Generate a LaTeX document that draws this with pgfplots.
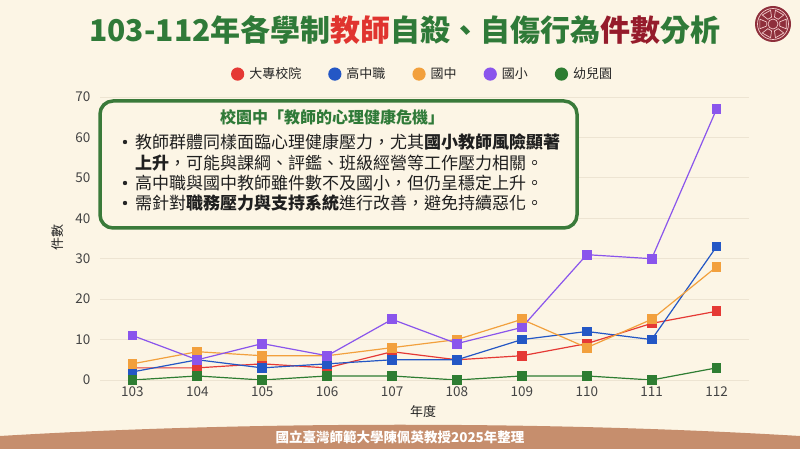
\documentclass[border=0pt]{standalone}
\usepackage{fontspec}
\setmainfont{Noto Sans CJK TC}
\usepackage{pgfplots}
\pgfplotsset{compat=1.18}
\definecolor{bg}{HTML}{FCF5E5}
\definecolor{gridc}{HTML}{EDE4D2}
\definecolor{tickc}{HTML}{444444}
\definecolor{tgreen}{HTML}{2F7A38}
\definecolor{tred}{HTML}{E0342F}
\definecolor{tmaroon}{HTML}{951B2B}
\definecolor{boxgreen}{HTML}{3A7A3A}
\definecolor{cRed}{HTML}{E53935}
\definecolor{cBlue}{HTML}{2457C5}
\definecolor{cOrange}{HTML}{F2A03D}
\definecolor{cPurple}{HTML}{8A55EC}
\definecolor{cGreen}{HTML}{2E7D32}
\definecolor{banner}{HTML}{C68E6D}
\definecolor{logoc}{HTML}{8E2F3B}
\definecolor{logol}{HTML}{F2CACA}
\begin{document}
\begin{tikzpicture}[x=1pt,y=1pt]
\fill[bg] (0,0) rectangle (800,449);
% banner
\fill[banner] (0,13) .. controls (250,28) and (550,28) .. (800,13) -- (800,0) -- (0,0) -- cycle;
\node[text=white, font=\fontsize{13.5}{16}\selectfont\bfseries] at (400,12) {國立臺灣師範大學陳佩英教授2025年整理};
% title
\node[font=\fontsize{30}{35}\selectfont\bfseries, text=tgreen] at (405,419) {103-112年各學制\textcolor{tred}{教師}自殺、自傷行為\textcolor{tmaroon}{件數}分析};
% logo
\begin{scope}[shift={(773,425)}]
\fill[logoc] (0,0) circle (18);
\draw[logol, line width=0.7] (0,0) circle (15.5);
\draw[logol, line width=0.7] (0,0) circle (5);
\foreach \a in {0,60,...,300}{
  \draw[logol, line width=0.7] (\a-18:7) -- (\a+18:7) -- (\a+20:14) -- (\a-20:14) -- cycle;
}
\end{scope}
\begin{axis}[
  at={(100pt,69pt)}, anchor=south west,
  scale only axis, width=649pt, height=283pt,
  xmin=102.5, xmax=112.5, ymin=0, ymax=70,
  xtick={103,104,105,106,107,108,109,110,111,112},
  ytick={0,10,20,30,40,50,60,70},
  axis line style={draw=none}, major tick length=0pt,
  ymajorgrids, grid style={line width=0.8pt, color=gridc},
  tick label style={font=\fontsize{13.5}{15}\selectfont, text=tickc},
  /pgf/number format/assume math mode=true,
  xticklabel style={yshift=-3pt}, yticklabel style={xshift=-6pt},
  xlabel={年度}, ylabel={件數},
  every axis x label/.style={at={(axis description cs:0.498,-0.113)}, anchor=center,
    font=\fontsize{13}{15}\selectfont, text=black!85},
  every axis y label/.style={at={(axis description cs:-0.065,0.505)}, anchor=center, rotate=90,
    font=\fontsize{13}{15}\selectfont, text=black!85},
  legend columns=5,
  legend style={at={(axis description cs:0.497,1.081)}, anchor=center, draw=none, fill=none,
    font=\fontsize{13}{15}\selectfont, text=black!85,
    /tikz/every even column/.append style={column sep=25pt}},
  legend cell align=left,
]
\addplot[color=cRed, line width=1.2pt, mark=square*, mark size=4.3pt,
  legend image code/.code={\fill[cRed] (7pt,0pt) circle (6pt); \path (16pt,0pt);}]
  coordinates {(103,3) (104,3) (105,4) (106,3) (107,7) (108,5) (109,6) (110,9) (111,14) (112,17)};
\addlegendentry{大專校院}
\addplot[color=cBlue, line width=1.2pt, mark=square*, mark size=4.3pt,
  legend image code/.code={\fill[cBlue] (7pt,0pt) circle (6pt); \path (16pt,0pt);}]
  coordinates {(103,2) (104,5) (105,3) (106,4) (107,5) (108,5) (109,10) (110,12) (111,10) (112,33)};
\addlegendentry{高中職}
\addplot[color=cOrange, line width=1.2pt, mark=square*, mark size=4.3pt,
  legend image code/.code={\fill[cOrange] (7pt,0pt) circle (6pt); \path (16pt,0pt);}]
  coordinates {(103,4) (104,7) (105,6) (106,6) (107,8) (108,10) (109,15) (110,8) (111,15) (112,28)};
\addlegendentry{國中}
\addplot[color=cPurple, line width=1.2pt, mark=square*, mark size=4.3pt,
  legend image code/.code={\fill[cPurple] (7pt,0pt) circle (6pt); \path (16pt,0pt);}]
  coordinates {(103,11) (104,5) (105,9) (106,6) (107,15) (108,9) (109,13) (110,31) (111,30) (112,67)};
\addlegendentry{國小}
\addplot[color=cGreen, line width=1.2pt, mark=square*, mark size=4.3pt,
  legend image code/.code={\fill[cGreen] (7pt,0pt) circle (6pt); \path (16pt,0pt);}]
  coordinates {(103,0) (104,1) (105,0) (106,1) (107,1) (108,0) (109,1) (110,1) (111,0) (112,3)};
\addlegendentry{幼兒園}
\end{axis}
% text box
\draw[boxgreen, line width=3.5pt, fill=bg, rounded corners=13pt] (100,221) rectangle (577,348);
\node[font=\fontsize{16}{19}\selectfont\bfseries, text=tgreen] at (332,332) {校園中「教師的心理健康危機」};
\begin{scope}[every node/.style={anchor=west, inner sep=0pt, font=\fontsize{17}{20}\selectfont, text=black!88}]
\fill[black!85] (125,307) circle (2.2);
\node at (135,307) {教師群體同樣面臨心理健康壓力，尤其\textbf{國小教師風險顯著}};
\node at (135,286) {\textbf{上升}，可能與課綱、評鑑、班級經營等工作壓力相關。};
\fill[black!85] (125,266) circle (2.2);
\node at (135,266) {高中職與國中教師雖件數不及國小，但仍呈穩定上升。};
\fill[black!85] (125,246) circle (2.2);
\node at (135,246) {需針對\textbf{職務壓力與支持系統}進行改善，避免持續惡化。};
\end{scope}
\end{tikzpicture}
\end{document}
